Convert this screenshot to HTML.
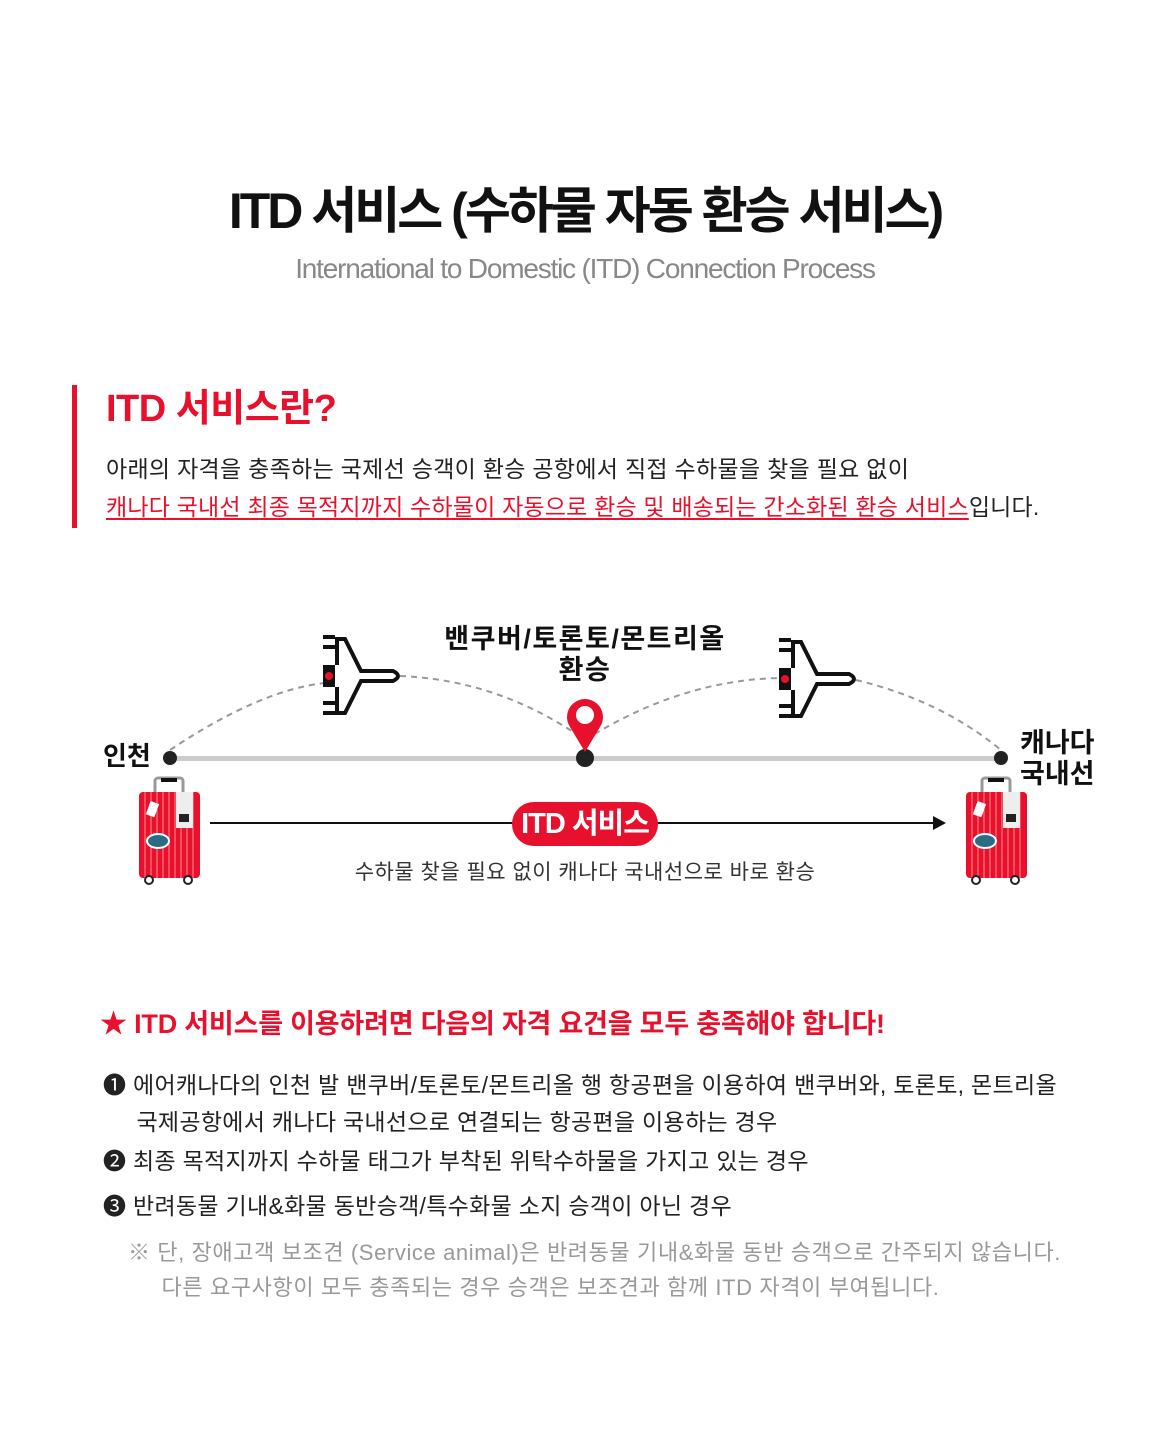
<!DOCTYPE html>
<html><head><meta charset="utf-8"><style>
body{margin:0;width:1170px;height:1445px;background:#fff;position:relative;font-family:"Liberation Sans","Noto Sans CJK KR",sans-serif;color:#111;overflow:hidden}
.a{position:absolute;white-space:nowrap;line-height:1}
</style></head><body>
<div class="a" style="left:0;width:1170px;text-align:center;top:186px;font-size:50px;font-weight:700;letter-spacing:-3px">ITD 서비스 (수하물 자동 환승 서비스)</div>
<div class="a" style="left:0;width:1170px;text-align:center;top:255px;font-size:28px;color:#888;letter-spacing:-1.2px">International to Domestic (ITD) Connection Process</div>
<div class="a" style="left:72px;top:385px;width:5px;height:143px;background:#e8112d"></div>
<div class="a" style="left:106px;top:390px;font-size:38px;font-weight:700;color:#e8112d;letter-spacing:-0.5px">ITD 서비스란?</div>
<div class="a" style="left:106px;top:458px;font-size:23px;letter-spacing:0.3px;color:#222">아래의 자격을 충족하는 국제선 승객이 환승 공항에서 직접 수하물을 찾을 필요 없이</div>
<div class="a" style="left:106px;top:496px;font-size:23px;letter-spacing:0.2px;color:#222"><span style="color:#e8112d;text-decoration:underline;text-underline-offset:3px">캐나다 국내선 최종 목적지까지 수하물이 자동으로 환승 및 배송되는 간소화된 환승 서비스</span>입니다.</div>

<svg class="a" style="left:0;top:0" width="1170" height="1445">
<defs>
<g id="plane">
<path d="M0 30 L12 30 L12 52 L0 52Z M0 0h12v4H0z M0 10h12v4H0z M0 66h12v4H0z M0 76h12v4H0z" fill="#111"/>
<path d="M14 30 L14 4 L22 4 L38 36 L70 36 Q80 41 70 46 L38 46 L22 78 L14 78 L14 52" fill="none" stroke="#111" stroke-width="4"/>
<circle cx="6" cy="41" r="4" fill="#e8112d"/>
</g>
<g id="bag">
<rect x="16" y="0" width="28" height="18" rx="3" fill="none" stroke="#999" stroke-width="3"/>
<rect x="22" y="0" width="16" height="4" fill="#111"/>
<rect x="0" y="14" width="61" height="86" rx="4" fill="#e8112d"/>
<g stroke="#ff8a8a" stroke-width="1"><path d="M6 14v86M12 14v86M18 14v86M24 14v86M30 14v86M36 14v86M42 14v86M48 14v86M54 14v86"/></g>
<rect x="37" y="14" width="17" height="36" fill="#eee"/>
<rect x="40" y="36" width="10" height="8" fill="#222"/>
<rect x="9" y="24" width="9" height="14" fill="#fff" transform="rotate(20 13 31)"/>
<ellipse cx="19" cy="63" rx="11" ry="7" fill="#2a6b86" stroke="#fff" stroke-width="2"/>
<circle cx="10" cy="102" r="4" fill="#fff" stroke="#222" stroke-width="2"/>
<circle cx="49" cy="102" r="4" fill="#fff" stroke="#222" stroke-width="2"/>
</g>
</defs>
<path d="M170 750 Q260 690 325 683" fill="none" stroke="#999" stroke-width="2" stroke-dasharray="6 5"/>
<path d="M400 676 Q500 680 585 740" fill="none" stroke="#999" stroke-width="2" stroke-dasharray="6 5"/>
<path d="M585 740 Q680 680 780 678" fill="none" stroke="#999" stroke-width="2" stroke-dasharray="6 5"/>
<path d="M856 680 Q940 700 1001 750" fill="none" stroke="#999" stroke-width="2" stroke-dasharray="6 5"/>
<rect x="170" y="756" width="831" height="5" fill="#ccc"/>
<circle cx="170" cy="758" r="7" fill="#222"/>
<circle cx="585" cy="758" r="9" fill="#222"/>
<circle cx="1001" cy="758" r="7" fill="#222"/>
<path d="M585 752 L570 727 A18 18 0 1 1 600 727 Z" fill="#e8112d"/>
<circle cx="585" cy="715" r="9" fill="#fff"/>
<use href="#plane" x="323" y="635"/>
<use href="#plane" x="779" y="638"/>
<use href="#bag" x="139" y="778"/>
<use href="#bag" x="966" y="778"/>
<rect x="210" y="822" width="725" height="2" fill="#111"/>
<path d="M933 816 L946 823 L933 830Z" fill="#111"/>
<rect x="512" y="802" width="146" height="44" rx="22" fill="#e8112d"/>
</svg>
<div class="a" style="left:512px;width:146px;text-align:center;top:810px;font-size:29px;font-weight:700;color:#fff;letter-spacing:-1px">ITD 서비스</div>
<div class="a" style="left:0;width:1170px;text-align:center;top:624px;font-size:27px;font-weight:700;letter-spacing:1.5px;line-height:31px">밴쿠버/토론토/몬트리올<br>환승</div>
<div class="a" style="left:103px;top:743px;font-size:26px;font-weight:700;letter-spacing:0px">인천</div>
<div class="a" style="left:1020px;top:728px;font-size:27px;font-weight:700;letter-spacing:0px;line-height:31px">캐나다<br>국내선</div>
<div class="a" style="left:0;width:1170px;text-align:center;top:862px;font-size:21px;letter-spacing:0.5px;color:#333">수하물 찾을 필요 없이 캐나다 국내선으로 바로 환승</div>

<div class="a" style="left:100px;top:1011px;font-size:27px;font-weight:700;color:#e8112d;letter-spacing:-0.2px">★ ITD 서비스를 이용하려면 다음의 자격 요건을 모두 충족해야 합니다!</div>
<div class="a" style="left:103px;top:1067px;font-size:23px;letter-spacing:0.3px;color:#222;line-height:37px">❶ 에어캐나다의 인천 발 밴쿠버/토론토/몬트리올 행 항공편을 이용하여 밴쿠버와, 토론토, 몬트리올<br>&nbsp;&nbsp;&nbsp;&nbsp;&nbsp;국제공항에서 캐나다 국내선으로 연결되는 항공편을 이용하는 경우</div>
<div class="a" style="left:103px;top:1150px;font-size:23px;letter-spacing:0.3px;color:#222">❷ 최종 목적지까지 수하물 태그가 부착된 위탁수하물을 가지고 있는 경우</div>
<div class="a" style="left:103px;top:1195px;font-size:23px;letter-spacing:0.3px;color:#222">❸ 반려동물 기내&amp;화물 동반승객/특수화물 소지 승객이 아닌 경우</div>
<div class="a" style="left:128px;top:1235px;font-size:22px;letter-spacing:0.6px;color:#999;line-height:35px">※ 단, 장애고객 보조견 (Service animal)은 반려동물 기내&amp;화물 동반 승객으로 간주되지 않습니다.<br>&nbsp;&nbsp;&nbsp;&nbsp;&nbsp;다른 요구사항이 모두 충족되는 경우 승객은 보조견과 함께 ITD 자격이 부여됩니다.</div>
</body></html>
